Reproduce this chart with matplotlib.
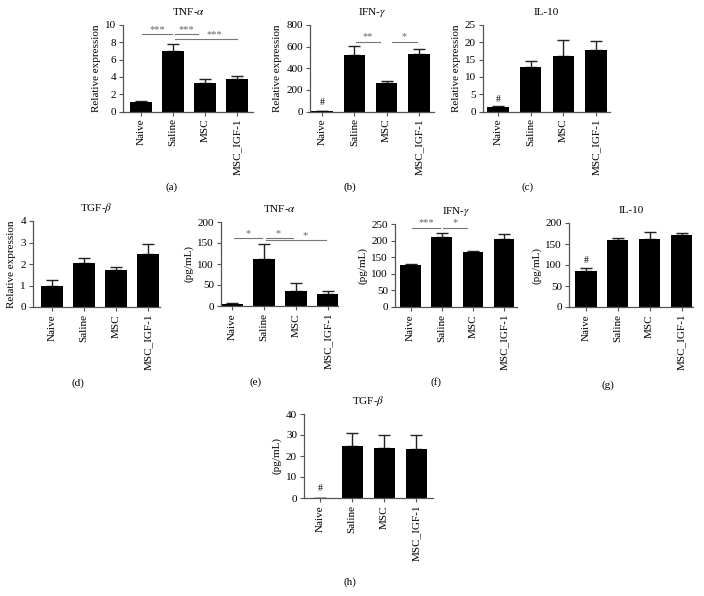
import numpy as np
import matplotlib.pyplot as plt

plt.rcParams.update({
    "font.family": "Liberation Serif",
    "mathtext.fontset": "stix",
    "font.size": 8,
    "axes.linewidth": 0.9,
    "axes.edgecolor": "#555555",
    "xtick.color": "#555555",
    "ytick.color": "#555555",
    "xtick.labelcolor": "black",
    "ytick.labelcolor": "black",
})

W, H = 704, 596

groups = ['Naive', 'Saline', 'MSC', 'MSC_IGF-1']

# relative expression (qPCR)
tnf_rel = [1.1, 7.0, 3.35, 3.8]
tnf_rel_err = [0.15, 0.75, 0.35, 0.3]
ifn_rel = [3, 525, 265, 530]
ifn_rel_err = [0, 85, 20, 50]
il10_rel = [1.2, 13.0, 15.9, 17.8]
il10_rel_err = [0.5, 1.7, 4.7, 2.5]
tgf_rel = [1.0, 2.05, 1.72, 2.45]
tgf_rel_err = [0.25, 0.25, 0.16, 0.47]

# protein (pg/mL)
tnf_pg = [5, 112, 35, 29]
tnf_pg_err = [1, 35, 19, 6]
ifn_pg = [126, 210, 165, 206]
ifn_pg_err = [5, 12, 3, 14]
il10_pg = [86, 160, 163, 171]
il10_pg_err = [8, 5, 16, 6]
tgf_pg = [0, 24.7, 24.0, 23.5]
tgf_pg_err = [0, 6.3, 6.0, 6.5]

# significance brackets: (x1, x2, y, label, label_x)
sig_a = [(0.03, 0.97, 8.95, '***', 0.5), (1.05, 1.78, 8.95, '***', 1.42), (1.05, 3.0, 8.35, '***', 2.3)]
sig_b = [(1.05, 1.8, 645, '**', 1.42), (2.15, 2.95, 645, '*', 2.55)]
sig_e = [(0.05, 0.95, 162, '*', 0.5), (1.05, 1.9, 162, '*', 1.45), (1.05, 2.95, 157, '*', 2.3)]
sig_f = [(0.05, 0.95, 239, '***', 0.5), (1.05, 1.8, 239, '*', 1.42)]

# panels: title, values, errors, ylabel, ymax, ystep, sig, hash,
#   pixel box (left spine, top, right end, bottom), naive centre px, igf centre px, letter pos
panels = [
    ('TNF-$\\alpha$', tnf_rel, tnf_rel_err, 'Relative expression', 10, 2, sig_a, None,
     (123, 25, 253, 111.5), 141, 237, (172, 187), '(a)'),
    ('IFN-$\\gamma$', ifn_rel, ifn_rel_err, 'Relative expression', 800, 200, sig_b, 80,
     (310, 25, 434, 111.5), 322, 419, (350, 187), '(b)'),
    ('IL-10', il10_rel, il10_rel_err, 'Relative expression', 25, 5, None, 3.6,
     (483, 25, 610, 111.5), 498, 596, (528, 187), '(c)'),
    ('TGF-$\\beta$', tgf_rel, tgf_rel_err, 'Relative expression', 4, 1, None, None,
     (33, 221, 160, 307), 52, 148, (78, 383), '(d)'),
    ('TNF-$\\alpha$', tnf_pg, tnf_pg_err, '(pg/mL)', 200, 50, sig_e, None,
     (221, 222, 338, 306), 232, 328, (256, 382), '(e)'),
    ('IFN-$\\gamma$', ifn_pg, ifn_pg_err, '(pg/mL)', 250, 50, sig_f, None,
     (395, 224, 517, 307), 410.5, 504, (436, 382), '(f)'),
    ('IL-10', il10_pg, il10_pg_err, '(pg/mL)', 200, 50, None, 110,
     (569, 223, 693, 307), 586, 681.5, (608, 385), '(g)'),
    ('TGF-$\\beta$', tgf_pg, tgf_pg_err, '(pg/mL)', 40, 10, None, 4.5,
     (304, 414, 433, 498), 320, 416.5, (350, 582), '(h)'),
]

fig = plt.figure(figsize=(W / 100, H / 100), dpi=100)

for (title, vals, errs, ylab, ymax, ystep, sig, hash_y,
     box, nc, ic, lpos, letter) in panels:
    L, T, R, B = box
    ax = fig.add_axes([L / W, 1 - B / H, (R - L) / W, (B - T) / H])
    s = (ic - nc) / 3
    x = np.arange(len(groups))
    ax.bar(x, vals, width=0.66, color='black', zorder=2)
    ax.errorbar(x, vals, yerr=[np.zeros(len(errs)), errs], fmt='none',
                ecolor='#222222', elinewidth=1.0, capsize=4.2, capthick=1.0, zorder=1)
    ax.set_xlim((L - nc) / s, 3 + (R - ic) / s)
    ax.set_ylim(0, ymax)
    ax.set_yticks(np.arange(0, ymax + ystep / 2, ystep))
    ax.set_xticks(x)
    ax.set_xticklabels(groups, rotation=90)
    ax.tick_params(length=3, width=0.8, pad=2)
    for sp in ['top', 'right']:
        ax.spines[sp].set_visible(False)
    ax.set_ylabel(ylab, labelpad=3)
    ax.set_title(title, fontsize=8, pad=7)
    if sig:
        for x1, x2, y, lab, lx in sig:
            ax.plot([x1, x2], [y, y], color='#777777', lw=0.8, clip_on=False)
            ax.text(lx, y + ymax * 0.003, lab, ha='center', va='bottom',
                    color='#666666', fontsize=7.5, clip_on=False)
    if hash_y is not None:
        ax.text(0, hash_y, '#', ha='center', va='center', fontsize=7)
    fig.text(lpos[0] / W, 1 - lpos[1] / H, letter, ha='center', va='center', fontsize=8)

fig.savefig('out.png', dpi=100)
